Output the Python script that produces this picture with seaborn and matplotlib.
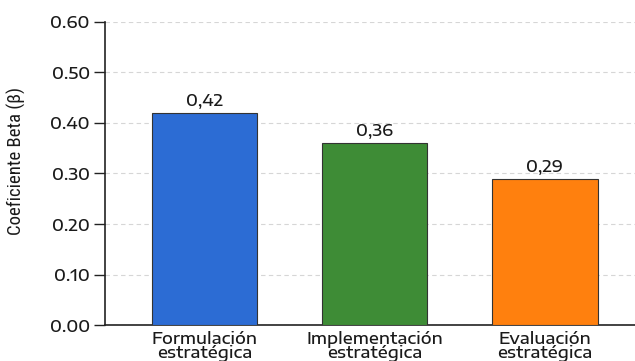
import matplotlib
matplotlib.use("Agg")
import matplotlib.pyplot as plt
import seaborn as sns
import pandas as pd
from matplotlib.ticker import FormatStrFormatter

categories = ["Formulación\nestratégica", "Implementación\nestratégica", "Evaluación\nestratégica"]
betas = [0.42, 0.36, 0.29]
colors = ["#2c6cd4", "#3e8c36", "#ff800e"]
yticks = [0.0, 0.1, 0.2, 0.3, 0.4, 0.5, 0.6]

sns.set_theme(style="white")
wide = ["Encode Sans Expanded", "DejaVu Sans"]
plt.rcParams["font.family"] = wide
plt.rcParams["font.weight"] = 500

df = pd.DataFrame({"Dimensión": categories, "Beta": betas})

fig = plt.figure(figsize=(6.35, 3.61), dpi=100)
ax = fig.add_axes([0.1654, 0.0997, 0.8346, 0.8394])

sns.barplot(data=df, x="Dimensión", y="Beta", hue="Dimensión", palette=colors,
            legend=False, width=0.62, edgecolor="#333333", linewidth=0.8,
            saturation=1, ax=ax, zorder=3)

for c in ax.containers:
    ax.bar_label(c, fmt=lambda v: f"{v:.2f}".replace(".", ","),
                 padding=2, fontsize=12, color="#1a1a1a", fontweight=500)

ax.set_ylim(0, 0.6)
ax.set_xlim(-0.585, 2.53)
ax.set_yticks(yticks)
ax.yaxis.set_major_formatter(FormatStrFormatter("%.2f"))
ax.yaxis.grid(True, linestyle=(0, (4, 3)), color="#d6d6d6", linewidth=0.8, zorder=0)
ax.xaxis.grid(False)

ax.set_xlabel("")
ax.set_ylabel("Coeficiente Beta (β)", family=["Roboto Condensed", "DejaVu Sans"],
              fontsize=13.5, fontweight="normal", color="#1a1a1a")
ax.yaxis.set_label_coords(-0.150, 0.54)

for side in ["top", "right"]:
    ax.spines[side].set_visible(False)
for side in ["left", "bottom"]:
    ax.spines[side].set_color("#222222")
    ax.spines[side].set_linewidth(1.2)

ax.tick_params(axis="y", length=8, width=1, color="#222222", labelsize=12,
               labelcolor="#1a1a1a", pad=3, left=True)
ax.tick_params(axis="x", length=0, labelsize=12, labelcolor="#1a1a1a", pad=4)
for lbl in ax.get_yticklabels() + ax.get_xticklabels():
    lbl.set_fontweight(500)
for lbl in ax.get_xticklabels():
    lbl.set_linespacing(0.82)

fig.savefig("out.png", dpi=100, facecolor="white")
